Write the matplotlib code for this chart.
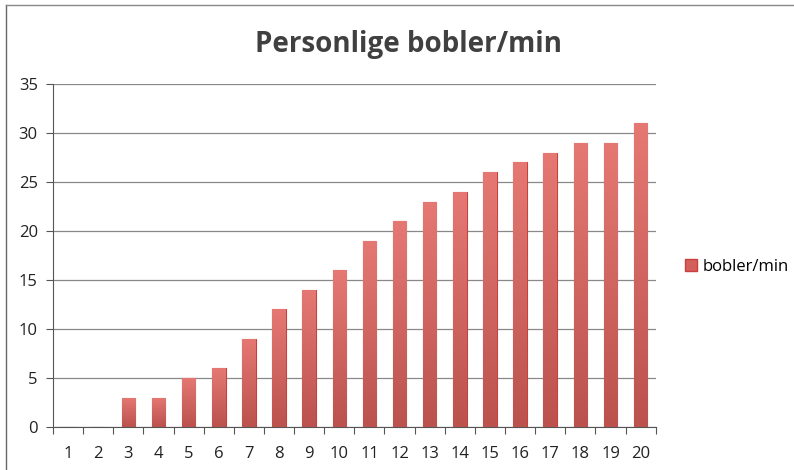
import numpy as np
import matplotlib.pyplot as plt
from matplotlib.patches import Rectangle
from matplotlib.lines import Line2D
from matplotlib.colors import LinearSegmentedColormap

categories = [str(i) for i in range(1, 21)]
values = [0, 0, 3, 3, 5, 6, 9, 12, 14, 16, 19, 21, 23, 24, 26, 27, 28, 29, 29, 31]
series_name = 'bobler/min'
title = 'Personlige bobler/min'

plt.rcParams['font.family'] = ['Open Sans', 'DejaVu Sans']

fig = plt.figure(figsize=(7.94, 4.70), dpi=100)
ax = fig.add_axes([0.0668, 0.0915, 0.759, 0.7298])

x = np.arange(len(values))
bars = ax.bar(x, values, width=0.45, color='#d4605c', edgecolor='#c9403c', linewidth=0.8, zorder=3)

# vertical gradient inside each bar
grad = np.linspace(0, 1, 100).reshape(-1, 1)
cmap = LinearSegmentedColormap.from_list('bar', ['#bb524e', '#e57873'])
for b in bars:
    h = b.get_height()
    if h <= 0:
        continue
    x0 = b.get_x()
    im = ax.imshow(grad, extent=(x0, x0 + b.get_width(), 0, h), origin='lower',
                   cmap=cmap, aspect='auto', zorder=3.5)
    im.set_clip_path(b)

ax.set_xlim(-0.5, len(values) - 0.5)
ax.set_ylim(0, 35)
ax.set_yticks(range(0, 36, 5))
ax.set_xticks(np.arange(-0.5, len(values), 1.0), minor=False)
ax.set_xticklabels([])
ax.set_xticks(x, minor=True)
ax.set_xticklabels(categories, minor=True)
ax.tick_params(axis='x', which='minor', length=0, pad=14, labelsize=12, colors='#222222')
ax.tick_params(axis='x', which='major', length=5, direction='out', color='#555555')
ax.tick_params(axis='y', length=5, direction='out', color='#555555', labelsize=12, labelcolor='#222222', pad=6)

ax.grid(axis='y', color='#888888', linewidth=0.9, zorder=0)
for s in ['top', 'right']:
    ax.spines[s].set_visible(False)
ax.spines['left'].set_color('#555555')
ax.spines['bottom'].set_color('#555555')

fig.text(0.515, 0.905, title, ha='center', va='center', fontsize=20,
         fontweight='bold', color='#404040')

handle = Rectangle((0, 0), 1, 1, facecolor='#d4605c', edgecolor='#c9403c')
fig.legend([handle], [series_name], loc='center left', bbox_to_anchor=(0.863, 0.432),
           frameon=False, fontsize=12, handlelength=0.7, handleheight=0.7,
           handletextpad=0.35, borderpad=0, borderaxespad=0)

# outer chart border (left and top visible in scan)
fig.add_artist(Line2D([0.007, 0.007], [0, 0.99], transform=fig.transFigure, color='#666666', linewidth=1))
fig.add_artist(Line2D([0.007, 1.0], [0.99, 0.99], transform=fig.transFigure, color='#888888', linewidth=1))

fig.savefig('out.png', dpi=100)
